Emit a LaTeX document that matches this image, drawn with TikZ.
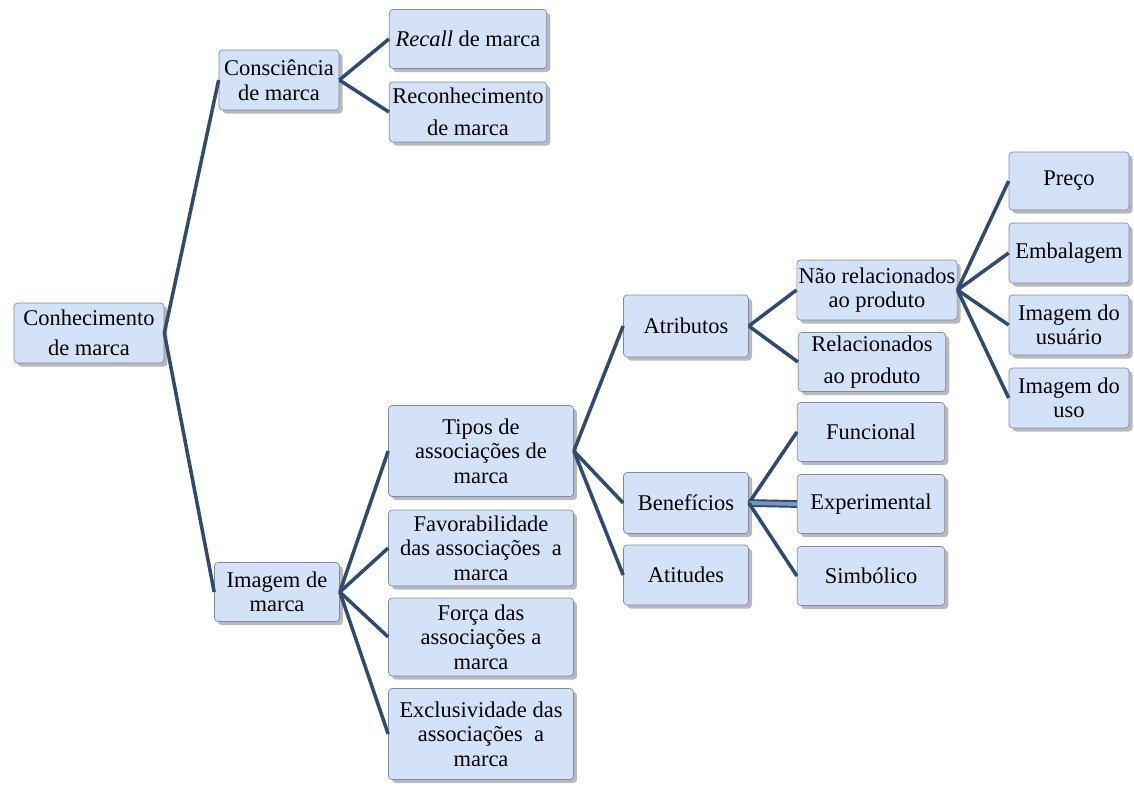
\documentclass[tikz,border=0pt]{standalone}
\usepackage{fontspec}
\setmainfont{Liberation Serif}
\usetikzlibrary{shadows}
\definecolor{boxblue}{RGB}{212,226,248}
\definecolor{boxedge}{RGB}{125,140,165}
\definecolor{linecol}{RGB}{48,75,110}
\definecolor{linelight}{RGB}{120,150,195}
\tikzstyle{block} = [rectangle, draw=boxedge, fill=boxblue, align=center,
    rounded corners=2pt, inner sep=1pt, font=\fontsize{12.8}{14}\selectfont,
    drop shadow={shadow xshift=2pt, shadow yshift=-2pt, opacity=.55}]
\tikzstyle{line} = [draw=linecol, line width=2pt]
\tikzstyle{dline} = [draw=linecol, line width=1.1pt, double=linelight, double distance=2.2pt]

\begin{document}
\begin{tikzpicture}[x=0.02cm, y=-0.02cm]
    \useasboundingbox (0,0) rectangle (1134,785);
    % Place nodes
    \node [block, minimum width=3.0cm, minimum height=1.2cm] (conh) at (89,333) {Conhecimento\\[3pt]de marca};
    \node [block, minimum width=2.4cm, minimum height=1.2cm] (consc) at (279,80) {Consciência\\de marca};
    \node [block, minimum width=2.5cm, minimum height=1.18cm] (imag) at (277,592) {Imagem de\\marca};
    \node [block, minimum width=3.15cm, minimum height=1.18cm] (recall) at (468,39) {\textit{Recall} de marca};
    \node [block, minimum width=3.15cm, minimum height=1.2cm] (recon) at (468,112) {Reconhecimento\\[4pt]de marca};
    \node [block, minimum width=3.7cm, minimum height=1.82cm] (tipos) at (481,451) {Tipos de\\associações de\\marca};
    \node [block, minimum width=3.7cm, minimum height=1.52cm] (favor) at (481,548) {Favorabilidade\\das associações~ a\\marca};
    \node [block, minimum width=3.7cm, minimum height=1.56cm] (forca) at (481,637) {Força das\\associações a\\marca};
    \node [block, minimum width=3.7cm, minimum height=1.82cm] (exclu) at (481,734) {Exclusividade das\\associações~ a\\marca};
    \node [block, minimum width=2.5cm, minimum height=1.24cm] (atrib) at (686,326) {Atributos};
    \node [block, minimum width=2.5cm, minimum height=1.22cm] (benef) at (686,503) {Benefícios};
    \node [block, minimum width=2.5cm, minimum height=1.2cm] (atit) at (686,575) {Atitudes};
    \node [block, minimum width=3.2cm, minimum height=1.2cm] (naorel) at (877,290) {Não relacionados\\ao produto};
    \node [block, minimum width=2.95cm, minimum height=1.18cm] (rel) at (872,362) {Relacionados\\[4pt]ao produto};
    \node [block, minimum width=2.95cm, minimum height=1.18cm] (func) at (871,432) {Funcional};
    \node [block, minimum width=2.95cm, minimum height=1.18cm] (exper) at (871,504) {Experimental};
    \node [block, minimum width=2.95cm, minimum height=1.18cm] (simb) at (871,576) {Simbólico};
    \node [block, minimum width=2.4cm, minimum height=1.16cm] (preco) at (1069,181) {Preço};
    \node [block, minimum width=2.4cm, minimum height=1.2cm] (embal) at (1069,253) {Embalagem};
    \node [block, minimum width=2.4cm, minimum height=1.2cm] (usuar) at (1069,325) {Imagem do\\usuário};
    \node [block, minimum width=2.4cm, minimum height=1.2cm] (uso) at (1069,398) {Imagem do\\uso};
    % Draw edges
    \path [line] (conh.east) -- (consc.west);
    \path [line] (conh.east) -- (imag.west);
    \path [line] (consc.east) -- (recall.west);
    \path [line] (consc.east) -- (recon.west);
    \path [line] (imag.east) -- (tipos.west);
    \path [line] (imag.east) -- (favor.west);
    \path [line] (imag.east) -- (forca.west);
    \path [line] (imag.east) -- (exclu.west);
    \path [line] (tipos.east) -- (atrib.west);
    \path [line] (tipos.east) -- (benef.west);
    \path [line] (tipos.east) -- (atit.west);
    \path [line] (atrib.east) -- (naorel.west);
    \path [line] (atrib.east) -- (rel.west);
    \path [line] (benef.east) -- (func.west);
    \path [dline] (benef.east) -- (exper.west);
    \path [line] (benef.east) -- (simb.west);
    \path [line] (naorel.east) -- (preco.west);
    \path [line] (naorel.east) -- (embal.west);
    \path [line] (naorel.east) -- (usuar.west);
    \path [line] (naorel.east) -- (uso.west);
\end{tikzpicture}
\end{document}
